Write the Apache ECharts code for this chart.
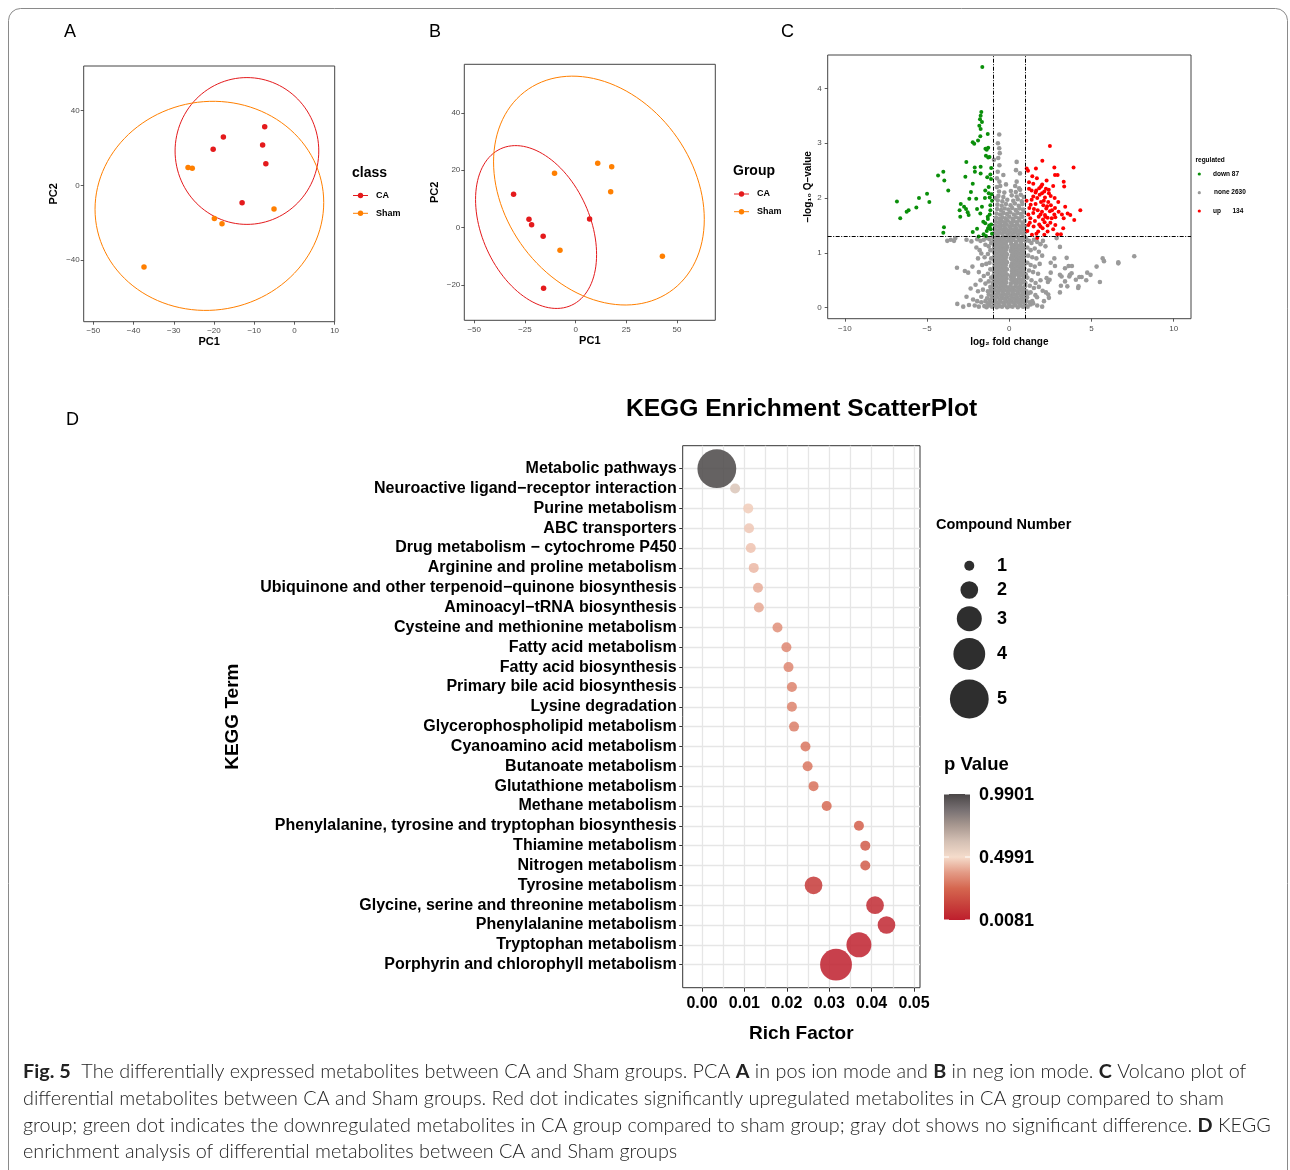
<!DOCTYPE html>
<html><head><meta charset="utf-8">
<script src="https://cdn.jsdelivr.net/npm/echarts@6/dist/echarts.min.js"></script>
<style>html,body{margin:0;padding:0;background:#fff}#c{width:1290px;height:1170px}</style>
</head><body><div id="c"></div>
<script>
// ---------------- DATA ----------------
// Panel A (PCA, pos ion mode)
const pcaA_CA   = [[-7.38,31.4],[-17.66,25.9],[-20.2,19.3],[-7.9,21.6],[-7.1,11.6],[-13.0,-9.3]];
const pcaA_Sham = [[-26.45,9.6],[-25.4,9.1],[-5.06,-12.7],[-19.9,-17.7],[-18.0,-20.5],[-37.4,-43.75]];
// ellipse params: cx, cy, ux, uy, vx, vy (conjugate semi-axes, data units)
const ellA_CA   = [-11.8, 18.4, 17.87, 0, 0, 39.3];
const ellA_Sham = [-21.14, -10.98, 28.44, 1.82, 0, 55.95];
const ticksA_x = [-50,-40,-30,-20,-10,0,10];
const ticksA_y = [-40,0,40];

// Panel B (PCA, neg ion mode)
const pcaB_CA   = [[-30.6,11.6],[-23.0,2.9],[-21.7,1.0],[-16.0,-3.0],[6.9,3.0],[-15.8,-21.1]];
const pcaB_Sham = [[-10.4,18.9],[10.9,22.4],[17.8,21.2],[17.3,12.5],[-7.7,-7.9],[42.8,-10.0]];
const ellB_CA   = [-19.5, 0.2, 29.85, -9.59, 0, 26.7];
const ellB_Sham = [11.5, 12.9, 51.97, -9.99, 0, 38.6];
const ticksB_x = [-50,-25,0,25,50];
const ticksB_y = [-20,0,20,40];

// Panel C (volcano)
const fcCut = [-1, 1];
const qCut = 1.3;
const ticksC_x = [-10,-5,0,5,10];
const ticksC_y = [0,1,2,3,4];
const regLabels = ['down 87','none 2630','up','134'];
const volcanoDown = [
[-1.64,4.39],[-1.70,3.57],[-1.74,3.50],[-1.78,3.44],[-1.66,3.39],[-1.82,3.32],[-1.74,3.26],[-1.31,3.17],[-1.76,3.13],
[-1.90,3.05],[-2.22,3.02],[-2.13,2.99],[-1.28,2.92],[-1.37,2.88],[-1.42,2.77],[-1.28,2.74],[-2.61,2.66],[-2.10,2.56],
[-1.74,2.57],[-2.09,2.48],[-1.74,2.45],[-4.01,2.48],[-4.33,2.41],[-2.67,2.39],[-1.15,2.43],[-1.34,2.38],[-1.11,2.35],
[-3.95,2.32],[-2.22,2.26],[-3.71,2.14],[-2.33,2.11],[-1.46,2.14],[-1.25,2.09],[-5.00,2.08],[-1.07,2.07],[-5.49,2.00],
[-4.86,1.93],[-2.43,1.99],[-2.01,1.99],[-1.48,2.00],[-1.19,2.01],[-6.83,1.94],[-2.95,1.89],[-2.75,1.84],[-1.15,1.87],
[-5.65,1.83],[-6.12,1.78],[-6.24,1.75],[-3.02,1.78],[-2.63,1.80],[-1.96,1.80],[-1.66,1.84],[-2.53,1.74],[-2.47,1.69],
[-1.76,1.72],[-1.19,1.70],[-2.98,1.66],[-6.63,1.63],[-1.31,1.66],[-1.58,1.57],[-1.46,1.54],[-1.22,1.50],[-1.29,1.45],
[-3.97,1.47],[-1.96,1.44],[-1.13,1.43],[-1.37,1.40],[-4.01,1.37],[-2.22,1.38],[-1.56,1.34],[-1.86,1.30],[-1.42,1.31],
[-1.10,1.52],[-1.20,1.47],[-1.05,1.35],[-1.30,1.62],[-1.15,1.78],[-1.05,1.95],[-1.25,2.20],[-1.10,2.55],[-1.20,2.75],[-1.45,2.90]
];
const volcanoUp = [
[2.47,2.95],[2.01,2.68],[1.06,2.54],[1.62,2.54],[2.74,2.56],[3.91,2.56],[1.14,2.50],[2.78,2.42],[2.94,2.42],[1.68,2.36],
[2.27,2.32],[1.20,2.29],[3.31,2.30],[1.46,2.26],[1.93,2.21],[1.82,2.18],[2.67,2.22],[3.34,2.21],[1.20,2.17],[1.36,2.14],
[1.64,2.14],[2.23,2.17],[2.13,2.12],[1.99,2.09],[2.41,2.09],[1.85,2.06],[2.52,2.04],[1.46,2.03],[2.17,2.01],[2.76,2.00],
[1.70,2.00],[2.98,1.93],[1.93,1.93],[2.37,1.93],[1.36,1.97],[1.60,1.89],[2.07,1.87],[2.53,1.87],[1.22,1.82],[2.25,1.81],
[2.78,1.82],[3.40,1.84],[1.73,1.78],[1.99,1.75],[2.47,1.76],[4.32,1.78],[1.46,1.73],[1.16,1.70],[2.17,1.69],[2.74,1.70],
[3.55,1.72],[3.71,1.69],[1.79,1.66],[2.33,1.64],[1.28,1.63],[2.05,1.61],[2.58,1.63],[3.95,1.60],[1.56,1.58],[2.15,1.56],
[3.31,1.63],[1.82,1.52],[2.33,1.50],[2.80,1.51],[1.16,1.51],[1.48,1.48],[2.03,1.45],[2.67,1.43],[3.28,1.45],[1.76,1.39],
[2.33,1.39],[2.92,1.34],[3.14,1.34],[1.38,1.33],[1.70,1.27],[2.13,1.33],
[1.30,1.88],[1.50,1.80],[1.90,1.70],[2.10,1.95],[2.30,1.85],[2.60,1.78],[1.60,2.10],[2.00,2.25],[2.40,2.15],[1.10,1.40],
[1.25,1.55],[1.90,1.48],[2.50,1.55],[2.20,1.66],[1.65,1.35],[2.80,1.65],[3.00,1.75],[3.20,1.70],[1.05,1.95],[1.40,2.40]
];
const volcanoNone = [
// dense core below threshold
[-1.52,0.03],[-1.38,0.01],[-1.22,0.04],[-1.05,0.02],[-0.9,0.05],[-0.76,0.01],[-0.6,0.03],[-0.44,0.02],[-0.28,0.05],[-0.12,0.01],[0.04,0.03],[0.2,0.02],[0.36,0.05],[0.52,0.01],[0.68,0.04],[0.84,0.02],[0.98,0.05],[1.12,0.02],
[-1.7,0.1],[-1.45,0.12],[-1.3,0.08],[-1.14,0.11],[-0.98,0.09],[-0.82,0.12],[-0.68,0.08],[-0.52,0.11],[-0.36,0.09],[-0.2,0.12],[-0.04,0.08],[0.12,0.11],[0.28,0.09],[0.44,0.12],[0.6,0.08],[0.76,0.11],[0.9,0.09],[1.05,0.12],[1.25,0.1],
[-1.35,0.17],[-1.18,0.15],[-1.02,0.18],[-0.88,0.16],[-0.73,0.19],[-0.58,0.15],[-0.43,0.18],[-0.28,0.16],[-0.13,0.19],[0.02,0.15],[0.17,0.18],[0.32,0.16],[0.47,0.19],[0.62,0.15],[0.77,0.18],[0.92,0.16],[1.08,0.19],
[-1.25,0.24],[-1.08,0.22],[-0.94,0.25],[-0.8,0.23],[-0.65,0.26],[-0.5,0.22],[-0.35,0.25],[-0.2,0.23],[-0.05,0.26],[0.1,0.22],[0.25,0.25],[0.4,0.23],[0.55,0.26],[0.7,0.22],[0.85,0.25],[0.98,0.23],[1.15,0.26],
[-1.12,0.31],[-0.98,0.29],[-0.85,0.32],[-0.7,0.3],[-0.56,0.33],[-0.42,0.29],[-0.27,0.32],[-0.12,0.3],[0.03,0.33],[0.18,0.29],[0.33,0.32],[0.48,0.3],[0.63,0.33],[0.78,0.29],[0.92,0.32],[1.05,0.3],
[-1.05,0.38],[-0.92,0.36],[-0.78,0.39],[-0.64,0.37],[-0.5,0.4],[-0.36,0.36],[-0.22,0.39],[-0.08,0.37],[0.08,0.4],[0.22,0.36],[0.37,0.39],[0.52,0.37],[0.67,0.4],[0.82,0.36],[0.96,0.39],
[-1.0,0.45],[-0.86,0.43],[-0.72,0.46],[-0.58,0.44],[-0.44,0.47],[-0.3,0.43],[-0.18,0.46],[0.1,0.44],[0.25,0.47],[0.4,0.43],[0.55,0.46],[0.7,0.44],[0.85,0.47],[0.98,0.45],
[-0.97,0.52],[-0.83,0.5],[-0.69,0.53],[-0.55,0.51],[-0.41,0.54],[-0.27,0.5],[-0.16,0.53],[0.12,0.51],[0.27,0.54],[0.42,0.5],[0.57,0.53],[0.72,0.51],[0.87,0.54],
[-0.95,0.59],[-0.8,0.57],[-0.66,0.6],[-0.52,0.58],[-0.38,0.61],[-0.25,0.57],[-0.14,0.6],[0.1,0.57],[0.14,0.6],[0.29,0.58],[0.44,0.61],[0.59,0.57],[0.74,0.6],[0.89,0.58],[1.0,0.61],
[-0.93,0.66],[-0.78,0.64],[-0.64,0.67],[-0.5,0.65],[-0.36,0.68],[-0.23,0.64],[-0.14,0.7],[0.15,0.67],[0.3,0.65],[0.45,0.68],[0.6,0.64],[0.75,0.67],[0.9,0.65],
[-0.92,0.73],[-0.77,0.71],[-0.63,0.74],[-0.49,0.72],[-0.35,0.75],[-0.22,0.71],[0.1,0.76],[0.16,0.74],[0.31,0.72],[0.46,0.75],[0.61,0.71],[0.76,0.74],[0.91,0.72],
[-0.9,0.8],[-0.76,0.78],[-0.62,0.81],[-0.48,0.79],[-0.34,0.82],[-0.21,0.78],[-0.14,0.83],[0.17,0.81],[0.32,0.79],[0.47,0.82],[0.62,0.78],[0.77,0.81],[0.92,0.79],
[-0.91,0.87],[-0.75,0.85],[-0.61,0.88],[-0.47,0.86],[-0.33,0.89],[-0.2,0.85],[0.1,0.9],[0.16,0.88],[0.31,0.86],[0.46,0.89],[0.61,0.85],[0.76,0.88],[0.9,0.86],
[-0.9,0.94],[-0.74,0.92],[-0.6,0.95],[-0.46,0.93],[-0.32,0.96],[-0.2,0.92],[-0.14,0.97],[0.15,0.95],[0.3,0.93],[0.45,0.96],[0.6,0.92],[0.75,0.95],[0.9,0.93],
[-0.92,1.01],[-0.76,0.99],[-0.6,1.02],[-0.45,1.0],[-0.31,1.03],[-0.19,0.99],[0.1,1.04],[0.14,1.02],[0.29,1.0],[0.44,1.03],[0.59,0.99],[0.74,1.02],[0.89,1.0],
[-0.93,1.08],[-0.77,1.06],[-0.62,1.09],[-0.46,1.07],[-0.31,1.1],[-0.18,1.06],[-0.13,1.11],[0.13,1.09],[0.28,1.07],[0.43,1.1],[0.58,1.06],[0.73,1.09],[0.88,1.07],
[-0.94,1.15],[-0.79,1.13],[-0.63,1.16],[-0.47,1.14],[-0.32,1.17],[-0.17,1.13],[0.12,1.16],[0.27,1.14],[0.42,1.17],[0.57,1.13],[0.72,1.16],[0.87,1.14],
[-0.95,1.22],[-0.8,1.2],[-0.64,1.23],[-0.48,1.21],[-0.33,1.24],[-0.18,1.2],[-0.04,1.23],[0.11,1.21],[0.26,1.24],[0.41,1.2],[0.56,1.23],[0.71,1.21],[0.86,1.24],[0.98,1.22],
[-0.97,1.28],[-0.82,1.27],[-0.66,1.29],[-0.5,1.27],[-0.35,1.3],[-0.2,1.28],[-0.06,1.27],[0.09,1.29],[0.24,1.27],[0.39,1.3],[0.54,1.28],[0.69,1.27],[0.84,1.29],[0.97,1.28],
// above threshold, inside fold band
[-0.92,1.36],[-0.75,1.34],[-0.58,1.37],[-0.42,1.35],[-0.26,1.38],[-0.1,1.34],[0.06,1.37],[0.22,1.35],[0.38,1.38],[0.54,1.34],[0.7,1.37],[0.86,1.35],[0.97,1.38],
[-0.88,1.43],[-0.72,1.41],[-0.55,1.44],[-0.38,1.42],[-0.22,1.45],[-0.05,1.41],[0.1,1.44],[0.26,1.42],[0.42,1.45],[0.58,1.41],[0.74,1.44],[0.9,1.42],
[-0.85,1.5],[-0.68,1.48],[-0.5,1.51],[-0.33,1.49],[-0.16,1.52],[0.02,1.48],[0.18,1.51],[0.34,1.49],[0.5,1.52],[0.66,1.48],[0.82,1.51],[0.95,1.49],
[-0.82,1.57],[-0.64,1.55],[-0.46,1.58],[-0.28,1.56],[-0.1,1.59],[0.08,1.55],[0.26,1.58],[0.44,1.56],[0.62,1.59],[0.8,1.55],[0.93,1.58],
[-0.8,1.64],[-0.6,1.62],[-0.42,1.65],[-0.22,1.63],[0.0,1.66],[0.2,1.62],[0.4,1.65],[0.6,1.63],[0.8,1.66],
[-0.78,1.72],[-0.56,1.7],[-0.36,1.73],[-0.14,1.71],[0.06,1.74],[0.28,1.7],[0.5,1.73],[0.7,1.71],[0.88,1.74],
[-0.74,1.8],[-0.5,1.78],[-0.28,1.81],[-0.05,1.79],[0.18,1.82],[0.4,1.78],[0.62,1.81],[0.84,1.79],
[-0.72,1.88],[-0.46,1.86],[-0.2,1.89],[0.08,1.87],[0.34,1.9],[0.58,1.86],[0.8,1.89],
[-0.7,1.96],[-0.42,1.94],[-0.12,1.97],[0.24,1.95],[0.52,1.98],[0.76,1.94],
[-0.85,2.0],[-0.66,2.04],[-0.36,2.02],[0.15,2.05],[0.45,2.03],[0.7,2.06],[0.88,2.02],
[-0.62,2.12],[-0.3,2.1],[0.1,2.13],[0.4,2.11],[0.66,2.15],
[-0.75,2.2],[-0.55,2.22],[-0.2,2.25],[0.36,2.22],[0.6,2.18],
[-0.6,2.3],[-0.36,2.42],[0.45,2.3],[0.65,2.45],[-0.7,2.48],[-0.6,2.6],[-0.93,2.7],[0.45,2.66],[0.41,2.51],
[-0.67,2.73],[-0.58,2.82],[-0.61,2.91],[-0.69,3.0],[-0.61,3.16],[-0.75,2.36],
// left of band, below threshold
[-3.77,1.22],[-3.56,1.24],[-3.36,1.22],[-3.28,1.27],[-2.6,1.24],[-2.3,1.21],[-1.95,1.25],[-1.75,1.22],[-1.55,1.24],[-1.35,1.27],[-1.2,1.25],
[-1.1,1.18],[-1.25,1.12],[-1.45,1.15],[-2.0,1.1],[-1.8,1.05],[-1.7,0.99],[-1.9,0.9],[-1.15,1.05],[-1.3,0.98],[-1.5,0.92],[-1.1,0.9],
[-1.2,0.82],[-1.4,0.8],[-1.65,0.78],[-2.24,0.75],[-3.18,0.73],[-2.7,0.67],[-2.5,0.64],[-1.85,0.65],[-1.15,0.7],[-1.3,0.62],[-1.55,0.58],
[-1.1,0.55],[-1.25,0.48],[-1.45,0.44],[-1.75,0.5],[-2.05,0.42],[-2.35,0.35],[-1.9,0.3],[-1.6,0.33],[-1.15,0.38],[-1.3,0.3],[-2.6,0.2],
[-2.2,0.15],[-1.95,0.12],[-1.7,0.2],[-3.16,0.07],[-2.8,0.02],[-2.45,0.05],[-2.1,0.04],[-1.85,0.02],
// right of band, below threshold
[1.05,1.25],[1.2,1.22],[1.35,1.18],[1.5,1.24],[1.7,1.2],[1.9,1.16],[2.05,1.22],[2.2,1.12],[2.88,1.27],[3.08,1.11],[1.1,1.1],[1.3,1.05],
[1.55,1.08],[1.8,1.02],[1.15,0.95],[1.4,0.92],[1.65,0.9],[2.0,0.95],[2.74,0.9],[3.49,0.91],[5.68,0.9],[5.76,0.85],[6.63,0.83],[6.63,0.81],
[7.6,0.94],[1.1,0.82],[1.3,0.78],[1.55,0.75],[1.85,0.8],[2.52,0.82],[2.78,0.76],[3.61,0.76],[3.81,0.76],[3.39,0.72],[5.31,0.75],[1.2,0.68],
[1.45,0.65],[1.75,0.62],[2.52,0.64],[3.08,0.6],[3.18,0.57],[3.69,0.6],[3.79,0.63],[3.65,0.57],[4.74,0.64],[4.94,0.6],[4.26,0.56],[4.4,0.56],
[4.05,0.51],[4.68,0.5],[2.27,0.54],[2.45,0.51],[2.35,0.47],[3.39,0.48],[5.51,0.47],[1.1,0.55],[1.35,0.5],[1.6,0.45],[1.9,0.5],[1.25,0.4],
[1.5,0.36],[1.8,0.38],[3.14,0.4],[3.53,0.39],[4.19,0.36],[4.21,0.39],[2.03,0.31],[2.23,0.28],[2.37,0.24],[2.41,0.18],[3.08,0.28],[1.3,0.28],
[1.59,0.23],[1.69,0.19],[1.4,0.12],[1.3,0.06],[1.45,0.08],[2.11,0.12],[2.0,0.02],[1.7,0.04]
];

// Panel D (KEGG enrichment)
const keggTerms = [
'Metabolic pathways','Neuroactive ligand\u2212receptor interaction','Purine metabolism','ABC transporters',
'Drug metabolism \u2212 cytochrome P450','Arginine and proline metabolism','Ubiquinone and other terpenoid\u2212quinone biosynthesis',
'Aminoacyl\u2212tRNA biosynthesis','Cysteine and methionine metabolism','Fatty acid metabolism','Fatty acid biosynthesis',
'Primary bile acid biosynthesis','Lysine degradation','Glycerophospholipid metabolism','Cyanoamino acid metabolism',
'Butanoate metabolism','Glutathione metabolism','Methane metabolism','Phenylalanine, tyrosine and tryptophan biosynthesis',
'Thiamine metabolism','Nitrogen metabolism','Tyrosine metabolism','Glycine, serine and threonine metabolism',
'Phenylalanine metabolism','Tryptophan metabolism','Porphyrin and chlorophyll metabolism'];
const keggRich  = [0.0035,0.0078,0.0109,0.0111,0.0115,0.0122,0.0132,0.0134,0.0178,0.0199,0.0204,0.0212,0.0212,0.0217,
                   0.0244,0.0249,0.0263,0.0294,0.0370,0.0385,0.0385,0.0263,0.0408,0.0435,0.0370,0.0316];
const keggCount = [5,1,1,1,1,1,1,1,1,1,1,1,1,1,1,1,1,1,1,1,1,2,2,2,3,4];
const keggP     = [0.9901,0.60,0.47,0.46,0.45,0.43,0.41,0.40,0.35,0.33,0.33,0.32,0.32,0.31,0.29,0.29,0.28,0.26,0.23,0.22,0.22,0.10,0.05,0.04,0.02,0.0081];
const richTicks = [0,0.01,0.02,0.03,0.04,0.05];
const richMinor = [0.005,0.015,0.025,0.035,0.045];
const pRange = [0.0081, 0.9901];
const pLegendLabels = ['0.9901','0.4991','0.0081'];
const countLegend = [1,2,3,4,5];

// ---------------- STYLE ----------------
const FONT = '"Liberation Sans", Arial, Helvetica, sans-serif';
const RED = '#E41A1C', ORANGE = '#FF7F00';
// low -> mid -> high, evenly spaced stops
const pColors = ['#BE1E2D', '#C8423C', '#D5664F', '#E39A85', '#F5DCCB', '#D4C0B4', '#A89890', '#777072', '#4A4647'];
const bubblePx = [0, 10, 17.7, 25, 31.8, 38.8];
const neg = v => String(v).replace('-', '\u2212');

function ellipse(p) {
  const pts = [];
  for (let i = 0; i <= 120; i++) {
    const t = i / 120 * 2 * Math.PI;
    pts.push([p[0] + p[2] * Math.cos(t) + p[4] * Math.sin(t), p[1] + p[3] * Math.cos(t) + p[5] * Math.sin(t)]);
  }
  return pts;
}
function vAxis(gi, min, max, ticks, name, gap, lab) {
  return {
    gridIndex: gi, type: 'value', min: min, max: max,
    axisLine: {show: false, onZero: false},
    axisTick: {show: true, length: 3, customValues: ticks, lineStyle: {color: '#333', width: 0.8}},
    axisLabel: {customValues: ticks, formatter: neg, fontSize: 8, color: '#4D4D4D', fontFamily: FONT, margin: lab},
    splitLine: {show: false},
    name: name, nameLocation: 'middle', nameGap: gap,
    nameTextStyle: {fontFamily: FONT, fontWeight: 'bold', fontSize: 11, color: '#000'}
  };
}
const gridBase = {show: true, borderColor: '#444', borderWidth: 1, containLabel: false, outerBoundsMode: 'none'};
const GRIDLINE = {color: '#E6E6E6', width: 1.3};

const xAxes = [
  vAxis(0, -52.4, 10.03, ticksA_x, 'PC1', 15, 5),
  vAxis(1, -54.9, 68.9, ticksB_x, 'PC1', 15, 5),
  vAxis(2, -11.04, 11.05, ticksC_x, 'log\u2082 fold change', 19, 6),
  {
    gridIndex: 3, type: 'value', min: -0.00455, max: 0.0514,
    axisLine: {show: false, onZero: false},
    axisTick: {show: true, length: 4, customValues: richTicks, lineStyle: {color: '#333', width: 1}},
    axisLabel: {customValues: richTicks, formatter: v => v.toFixed(2), fontSize: 16, fontWeight: 'bold', color: '#000', fontFamily: FONT, margin: 8},
    splitLine: {show: true, lineStyle: GRIDLINE},
    name: 'Rich Factor', nameLocation: 'middle', nameGap: 37,
    nameTextStyle: {fontFamily: FONT, fontWeight: 'bold', fontSize: 19, color: '#000'}
  },
  {
    gridIndex: 3, type: 'value', min: -0.00455, max: 0.0514, position: 'top',
    axisLine: {show: false, onZero: false},
    axisTick: {show: false, customValues: richMinor},
    axisLabel: {show: false, customValues: richMinor},
    splitLine: {show: true, lineStyle: GRIDLINE}
  }
];
xAxes[2].nameTextStyle.fontSize = 10;
const yAxes = [
  vAxis(0, -73, 63.9, ticksA_y, 'PC2', 24, 4),
  vAxis(1, -32.3, 56.9, ticksB_y, 'PC2', 24, 4),
  vAxis(2, -0.2, 4.61, ticksC_y, '\u2212log\u2081\u2080 Q\u2212value', 14, 6),
  {
    gridIndex: 3, type: 'value', min: -1.16, max: 26.16, inverse: true,
    axisLine: {show: false, onZero: false},
    axisTick: {show: true, length: 3.5, customValues: keggTerms.map((t, i) => i), lineStyle: {color: '#333', width: 1}},
    axisLabel: {customValues: keggTerms.map((t, i) => i), formatter: v => keggTerms[Math.round(v)],
                fontSize: 16, fontWeight: 'bold', color: '#000', fontFamily: FONT, margin: 6, padding: [3, 0, 0, 0]},
    splitLine: {show: true, lineStyle: GRIDLINE},
    name: 'KEGG Term', nameLocation: 'middle', nameGap: 440,
    nameTextStyle: {fontFamily: FONT, fontWeight: 'bold', fontSize: 19, color: '#000'}
  }
];
yAxes[2].nameTextStyle.fontSize = 10;

function pts(data, gi, color, size, z) {
  return {type: 'scatter', xAxisIndex: gi, yAxisIndex: gi, data: data, symbolSize: size,
          itemStyle: {color: color, opacity: 1}, z: z || 3, silent: true};
}
function ell(p, gi, color) {
  return {type: 'line', xAxisIndex: gi, yAxisIndex: gi, data: ellipse(p), showSymbol: false, symbol: 'none',
          lineStyle: {color: color, width: 1}, z: 2, silent: true};
}

const series = [
  pts(pcaA_CA, 0, RED, 5.5), pts(pcaA_Sham, 0, ORANGE, 5.5), ell(ellA_CA, 0, RED), ell(ellA_Sham, 0, ORANGE),
  pts(pcaB_CA, 1, RED, 5.5), pts(pcaB_Sham, 1, ORANGE, 5.5), ell(ellB_CA, 1, RED), ell(ellB_Sham, 1, ORANGE),
  Object.assign(pts(volcanoNone, 2, '#9A9A9A', 4.6, 2), {
    markLine: {silent: true, symbol: ['none', 'none'], label: {show: false}, animation: false,
      lineStyle: {color: '#000', type: [4, 1.5, 1, 1.5], width: 1},
      data: [{xAxis: fcCut[0]}, {xAxis: fcCut[1]}, {yAxis: qCut}]}
  }),
  pts(volcanoDown, 2, '#0A8F0A', 4),
  pts(volcanoUp, 2, '#FF0000', 4),
  {
    type: 'scatter', xAxisIndex: 3, yAxisIndex: 3, silent: true, z: 3,
    data: keggTerms.map((t, i) => [keggRich[i], i, keggCount[i], keggP[i]]),
    symbolSize: v => bubblePx[v[2]],
    itemStyle: {opacity: 0.85}
  }
];

// ---------------- GRAPHICS (labels, legends, caption) ----------------
const g = [];
function txt(x, y, s, size, opt) {
  g.push(Object.assign({type: 'text', x: x, y: y, silent: true,
    style: Object.assign({text: s, fontSize: size, fontFamily: FONT, fill: '#000', textVerticalAlign: 'middle', verticalAlign: 'middle'}, opt || {})}));
}
// frame
g.push({type: 'rect', silent: true, shape: {x: 8.5, y: 8.5, width: 1279, height: 1200, r: 12},
        style: {fill: 'none', stroke: '#8a8a8a', lineWidth: 1}});
// panel letters
txt(64, 32, 'A', 18); txt(429, 32, 'B', 18); txt(781, 32, 'C', 18); txt(66, 420, 'D', 18);
// PCA legends
function pcaLegend(x, y, title, lineX0, textX, yCA, ySham) {
  txt(x, y, title, 14, {fontWeight: 'bold'});
  [[yCA, RED, 'CA'], [ySham, ORANGE, 'Sham']].forEach(e => {
    g.push({type: 'line', silent: true, shape: {x1: lineX0, y1: e[0], x2: lineX0 + 15, y2: e[0]}, style: {stroke: e[1], lineWidth: 1}});
    g.push({type: 'circle', silent: true, shape: {cx: lineX0 + 7.5, cy: e[0], r: 2.7}, style: {fill: e[1]}});
    txt(textX, e[0], e[2], 9, {fontWeight: 'bold'});
  });
}
pcaLegend(352, 173, 'class', 353, 376, 195.5, 213.3);
pcaLegend(733, 171.5, 'Group', 734, 757, 194, 211.7);
// volcano legend
txt(1195.5, 160, 'regulated', 6.5, {fontWeight: 'bold'});
[[174, '#0A8F0A'], [192.7, '#9A9A9A'], [211, '#FF0000']].forEach(e =>
  g.push({type: 'circle', silent: true, shape: {cx: 1199.3, cy: e[0], r: 1.6}, style: {fill: e[1]}}));
txt(1213, 174, regLabels[0], 6.5, {fontWeight: 'bold'});
txt(1214, 192.7, regLabels[1], 6.5, {fontWeight: 'bold'});
txt(1213, 211, regLabels[2], 6.5, {fontWeight: 'bold'});
txt(1232.5, 211, regLabels[3], 6.5, {fontWeight: 'bold'});
// KEGG title
txt(801.5, 409, 'KEGG Enrichment ScatterPlot', 24.6, {fontWeight: 'bold', textAlign: 'center', align: 'center'});
// size legend
txt(936, 525, 'Compound Number', 14.5, {fontWeight: 'bold'});
const sizeY = [565.7, 590, 618.7, 654, 699];
countLegend.forEach((n, i) => {
  g.push({type: 'circle', silent: true, shape: {cx: 969.3, cy: sizeY[i], r: bubblePx[n] / 2}, style: {fill: '#2E2E2E'}});
  txt(997, sizeY[i], String(n), 18, {fontWeight: 'bold'});
});
// colour bar
txt(944, 765, 'p Value', 18.5, {fontWeight: 'bold'});
const cbX = 944, cbY = 794, cbW = 26, cbH = 126;
g.push({type: 'rect', silent: true, shape: {x: cbX, y: cbY, width: cbW, height: cbH},
  style: {fill: new echarts.graphic.LinearGradient(0, 0, 0, 1,
    pColors.slice().reverse().map((c, i, a) => ({offset: i / (a.length - 1), color: c})))}});
[0, 0.5, 1].forEach((f, i) => {
  const yy = cbY + f * cbH;
  g.push({type: 'line', silent: true, shape: {x1: cbX, y1: yy, x2: cbX + 5, y2: yy}, style: {stroke: '#fff', lineWidth: 1}});
  g.push({type: 'line', silent: true, shape: {x1: cbX + cbW - 5, y1: yy, x2: cbX + cbW, y2: yy}, style: {stroke: '#fff', lineWidth: 1}});
  txt(979, yy + 1, pLegendLabels[i], 18, {fontWeight: 'bold'});
});
// caption
const CAP = 'Lato, "Open Sans", sans-serif';
const CAPSZ = 19.8;
const capRich = {
  n: {fontFamily: CAP, fontSize: CAPSZ, fontWeight: 300, fill: '#222'},
  b: {fontFamily: CAP, fontSize: CAPSZ, fontWeight: 'bold', fill: '#222'}
};
const capLines = [
  '{b|Fig. 5}{n|  The differentially expressed metabolites between CA and Sham groups. PCA }{b|A}{n| in pos ion mode and }{b|B}{n| in neg ion mode. }{b|C}{n| Volcano plot of}',
  '{n|differential metabolites between CA and Sham groups. Red dot indicates significantly upregulated metabolites in CA group compared to sham}',
  '{n|group; green dot indicates the downregulated metabolites in CA group compared to sham group; gray dot shows no significant difference. }{b|D}{n| KEGG}',
  '{n|enrichment analysis of differential metabolites between CA and Sham groups}'
];
const capY = [1072, 1099, 1125.5, 1152];
capLines.forEach((s, i) => g.push({type: 'text', x: 23, y: capY[i], silent: true,
  style: {text: s, rich: capRich, fontFamily: CAP, fontSize: CAPSZ, fill: '#222', verticalAlign: 'middle', textVerticalAlign: 'middle'}}));

const option = {
  animation: false,
  backgroundColor: '#fff',
  grid: [
    Object.assign({left: 83.7, top: 66, width: 251, height: 255.7}, gridBase),
    Object.assign({left: 464.3, top: 64.3, width: 251, height: 256}, gridBase),
    Object.assign({left: 827.7, top: 55, width: 363.3, height: 263.7}, gridBase),
    Object.assign({left: 682.7, top: 445.7, width: 237.3, height: 542}, gridBase, {borderColor: '#333'})
  ],
  xAxis: xAxes,
  yAxis: yAxes,
  visualMap: {type: 'continuous', show: false, min: pRange[0], max: pRange[1], dimension: 3, seriesIndex: 11,
              inRange: {color: pColors}},
  series: series,
  graphic: {elements: g}
};
const chart = echarts.init(document.getElementById('c'), null, {renderer: 'canvas'});
chart.setOption(option);
</script></body></html>
